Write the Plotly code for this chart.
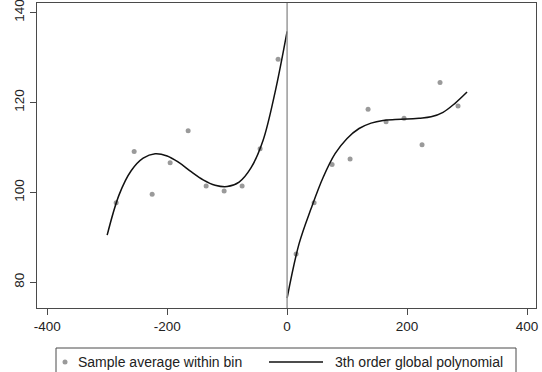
import plotly.graph_objects as go

# Binned sample averages
bin_x_left = [-285, -255, -225, -195, -165, -135, -105, -75, -45, -15]
bin_y_left = [97.7, 109.1, 99.6, 106.6, 113.7, 101.4, 100.3, 101.4, 109.7, 129.6]
bin_x_right = [15, 45, 75, 105, 135, 165, 195, 225, 255, 285]
bin_y_right = [86.3, 97.7, 106.2, 107.4, 118.5, 115.7, 116.5, 110.6, 124.4, 119.2]

# Fitted 3rd order polynomial
fit_x_left = [-300, -280, -260, -240, -220, -200, -180, -160, -140, -120, -100, -80, -60, -40, -20, 0]
fit_y_left = [90.5, 99.5, 104.8, 107.6, 108.6, 108.1, 106.6, 104.6, 102.8, 101.6, 101.3, 102.3, 105.5, 111.6, 122.3, 135.8]
fit_x_right = [0, 20, 40, 60, 80, 100, 120, 140, 160, 180, 200, 220, 240, 260, 280, 300]
fit_y_right = [76.5, 88.6, 96.4, 103.3, 108.6, 112.0, 114.2, 115.4, 116.0, 116.2, 116.3, 116.5, 116.8, 117.8, 119.8, 122.3]

x_ticks = [-400, -200, 0, 200, 400]
x_tick_labels = ["-400", "-200", "0", "200", "400"]
y_ticks = [80, 100, 120, 140]
y_tick_labels = ["80", "100", "120", "140"]

legend_points = "Sample average within bin"
legend_line = "3th order global polynomial"

FONT = "Liberation Sans, Arial, sans-serif"
TXT = "#222222"
FRAME = "#4a4a4a"

fig = go.Figure()
fig.add_trace(go.Scatter(x=bin_x_left + bin_x_right, y=bin_y_left + bin_y_right,
                         mode="markers", marker=dict(color="#9a9a9a", size=5),
                         name=legend_points, showlegend=False))
fig.add_trace(go.Scatter(x=fit_x_left, y=fit_y_left, mode="lines", line=dict(color="#111111", width=1.5, shape="spline"),
                         name=legend_line, showlegend=False))
fig.add_trace(go.Scatter(x=fit_x_right, y=fit_y_right, mode="lines", line=dict(color="#111111", width=1.5, shape="spline"),
                         name=legend_line, showlegend=False))

# cutoff line
fig.add_shape(type="line", xref="x", yref="paper", x0=0, x1=0, y0=0, y1=1,
              line=dict(color="#9a9a9a", width=1.5))

# manual legend
W, H = 542, 372
L, R, T, B = 37, 6, 3, 64
pw, ph = W - L - R, H - T - B
def px(xp):
    return (xp - L) / pw
def py(yp):
    return (H - B - yp) / ph

fig.add_shape(type="rect", xref="paper", yref="paper", x0=px(56), x1=px(516), y0=py(348), y1=py(385),
              line=dict(color=FRAME, width=1), fillcolor="white")
ly = py(362)
fig.add_shape(type="circle", xref="paper", yref="paper", xsizemode="pixel", ysizemode="pixel",
              xanchor=px(65), yanchor=ly, x0=-2.5, x1=2.5, y0=-2.5, y1=2.5,
              line=dict(width=0), fillcolor="#9a9a9a")
fig.add_shape(type="line", xref="paper", yref="paper", x0=px(269), x1=px(323), y0=ly, y1=ly,
              line=dict(color="#111111", width=1.5))
fig.add_annotation(xref="paper", yref="paper", x=px(76), y=ly, xanchor="left", yanchor="middle",
                   text=legend_points, showarrow=False, font=dict(family=FONT, size=14, color=TXT))
fig.add_annotation(xref="paper", yref="paper", x=px(333), y=ly, xanchor="left", yanchor="middle",
                   text=legend_line, showarrow=False, font=dict(family=FONT, size=14, color=TXT))

fig.update_layout(
    width=W, height=H,
    margin=dict(l=L, r=R, t=T, b=B, autoexpand=False),
    paper_bgcolor="white", plot_bgcolor="white",
    font=dict(family=FONT, size=13.5, color=TXT),
    showlegend=False,
)
fig.update_xaxes(range=[-417, 415], tickvals=x_ticks, ticktext=x_tick_labels, ticks="outside", ticklen=6, tickwidth=1.3,
                 tickcolor=FRAME, showline=True, linecolor=FRAME, linewidth=1.3, mirror=True,
                 showgrid=False, zeroline=False, tickfont=dict(size=13.5, color=TXT),
                 automargin=False, ticklabeloverflow="allow")
fig.update_yaxes(range=[74.3, 142.1], tickvals=y_ticks, ticktext=y_tick_labels, ticks="outside", ticklen=6, tickwidth=1.3,
                 tickcolor=FRAME, showline=True, linecolor=FRAME, linewidth=1.3, mirror=True,
                 showgrid=False, zeroline=False, tickangle=-90, tickfont=dict(size=13.5, color=TXT),
                 automargin=False, ticklabeloverflow="allow")

fig.write_html("out.html", config={"displayModeBar": False},
               post_script="document.body.style.margin='0px';document.body.style.overflow='hidden';")
